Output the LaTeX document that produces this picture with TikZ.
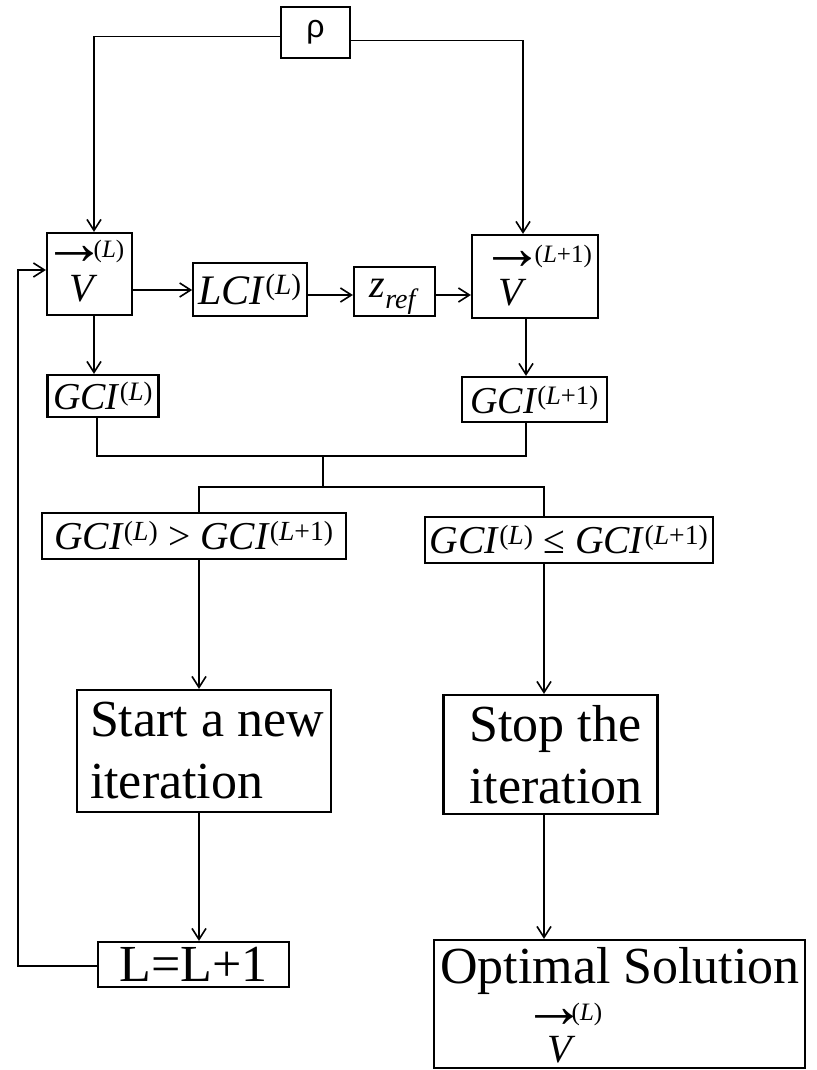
\documentclass[tikz,border=0pt]{standalone}
\usepackage{fontspec}
\usepackage{graphicx}
\setmainfont{Liberation Serif}
\newfontfamily\rhofont{Liberation Sans}
\usetikzlibrary{arrows.meta}
\newcommand\pw[1]{\textsuperscript{(#1)}}
\newcommand\vecarrow{\raisebox{-15pt}[5pt][5pt]{→}}
\tikzset{
  box/.style={draw, line width=2.2pt, inner sep=0pt},
  conn/.style={line width=1.7pt},
  arr/.style={conn, -{Straight Barb[length=11pt,width=14pt,line width=1.6pt]}},
  bigtxt/.style={font=\fontsize{52}{62}\selectfont, inner sep=0pt},
  mtxt/.style={font=\fontsize{38}{44}\selectfont, inner sep=0pt},
  vtxt/.style={font=\fontsize{40}{48}\selectfont\itshape, inner sep=0pt},
  arrtxt/.style={font=\fontsize{64}{70}\selectfont, inner sep=0pt, anchor=base},
  suptxt/.style={font=\fontsize{25}{28}\selectfont, inner sep=0pt, anchor=west},
}
\begin{document}
\begin{tikzpicture}[x=1pt,y=-1pt]
\useasboundingbox (0,0) rectangle (816,1070);
% boxes
\node[box, minimum width=69pt, minimum height=51pt] (rho) at (315.5,32.5) {\rhofont\fontsize{32}{36}\selectfont ρ};
\node[box, minimum width=85pt, minimum height=82pt] (VL) at (89.5,274) {};
\node[box, minimum width=113.5pt, minimum height=53pt, font=\fontsize{42}{48}\selectfont] (LCI) at (250,289.5) {\textit{LCI}\pw{\textit{L}}};
\node[box, minimum width=81pt, minimum height=49pt] (zref) at (394.5,291.5) {};
\node[box, minimum width=126pt, minimum height=83pt] (VL1) at (535,276.5) {};
\node[box, minimum width=111pt, minimum height=42pt, mtxt] (GCIL) at (103,396) {\textit{GCI}\pw{\textit{L}}};
\node[box, minimum width=145pt, minimum height=45pt, mtxt] (GCIL1) at (534.5,399.5) {\textit{GCI}\pw{\textit{L}+1}};
\node[box, minimum width=304pt, minimum height=46pt, mtxt, font=\fontsize{39.5}{44}\selectfont] (GT) at (194,536) {\textit{GCI}\pw{\textit{L}} > \textit{GCI}\pw{\textit{L}+1}};
\node[box, minimum width=288pt, minimum height=46pt, mtxt, font=\fontsize{39.5}{44}\selectfont] (LE) at (569,540) {\textit{GCI}\pw{\textit{L}} ≤ \textit{GCI}\pw{\textit{L}+1}};
\node[box, minimum width=254pt, minimum height=122pt] (Start) at (204,751) {};
\node[box, minimum width=214pt, minimum height=119pt] (Stop) at (550.5,754.5) {};
\node[box, minimum width=191pt, minimum height=45pt, bigtxt] (Linc) at (193.5,964.5) {L=L+1};
\node[box, minimum width=371pt, minimum height=128pt] (Opt) at (619.5,1004) {};
% texts inside boxes
\node[font=\fontsize{40}{48}\selectfont, inner sep=0pt] (tz) at (394.5,297) {\textit{z}\textsubscript{\textit{ref}}};
\node[bigtxt, align=left] (tStart) at (207,751) {Start a new\\iteration};
\node[bigtxt, align=left] (tStop) at (556,755) {Stop the\\iteration};
\node[bigtxt, anchor=base] (tOpt) at (620,983) {Optimal Solution};
% vector V^(L)
\node[arrtxt] (aVL) at (74,249) {\vecarrow};
\node[suptxt] (sVL) at (93.5,251) {(\textit{L})};
\node[vtxt] (vVL) at (82,289) {V};
% vector V^(L+1)
\node[arrtxt] (aVL1) at (512,254) {\vecarrow};
\node[suptxt] (sVL1) at (534.5,256) {(\textit{L}+1)};
\node[vtxt] (vVL1) at (511,293) {V};
% vector V^(L) optimal
\node[arrtxt] (aOpt) at (554,1012) {\vecarrow};
\node[suptxt] (sOpt) at (571.5,1014) {(\textit{L})};
\node[vtxt] (vOpt) at (560,1050) {V};
% connectors
\draw[arr] ([yshift=-4pt]rho.west) -| ([xshift=4.5pt]VL.north);
\draw[arr] ([yshift=-8pt]rho.east) -| ([xshift=-12pt]VL1.north);
\draw[arr] ([yshift=-16pt]VL.east) -- ([yshift=-16pt]VL.east -| LCI.west);
\draw[arr] ([yshift=-5.5pt]LCI.east) -- ([yshift=-5.5pt]LCI.east -| zref.west);
\draw[arr] ([yshift=-3.5pt]zref.east) -- ([yshift=-3.5pt]zref.east -| VL1.west);
\draw[arr] ([xshift=4.5pt]VL.south) -- ([xshift=4.5pt]VL.south |- GCIL.north);
\draw[arr] ([xshift=-9pt]VL1.south) -- ([xshift=-9pt]VL1.south |- GCIL1.north);
\coordinate (mj) at (323,456);
\coordinate (sj) at (323,487);
\coordinate (cl) at (199,487);
\coordinate (cr) at (544,487);
\draw[conn] ([xshift=-6pt]GCIL.south) |- (mj) -| ([xshift=-8.5pt]GCIL1.south);
\draw[conn] (mj) -- (sj);
\draw[conn] (cl |- GT.north) -- (cl) -- (cr) -- (cr |- LE.north);
\draw[arr] (cl |- GT.south) -- (cl |- Start.north);
\draw[arr] (cr |- LE.south) -- (cr |- Stop.north);
\draw[arr] (cl |- Start.south) -- (cl |- Linc.north);
\draw[arr] (cr |- Stop.south) -- (cr |- Opt.north);
\coordinate (fb) at (18,270);
\draw[arr] ([yshift=-1.5pt]Linc.west) -| (fb) -- (fb -| VL.west);
\end{tikzpicture}
\end{document}
